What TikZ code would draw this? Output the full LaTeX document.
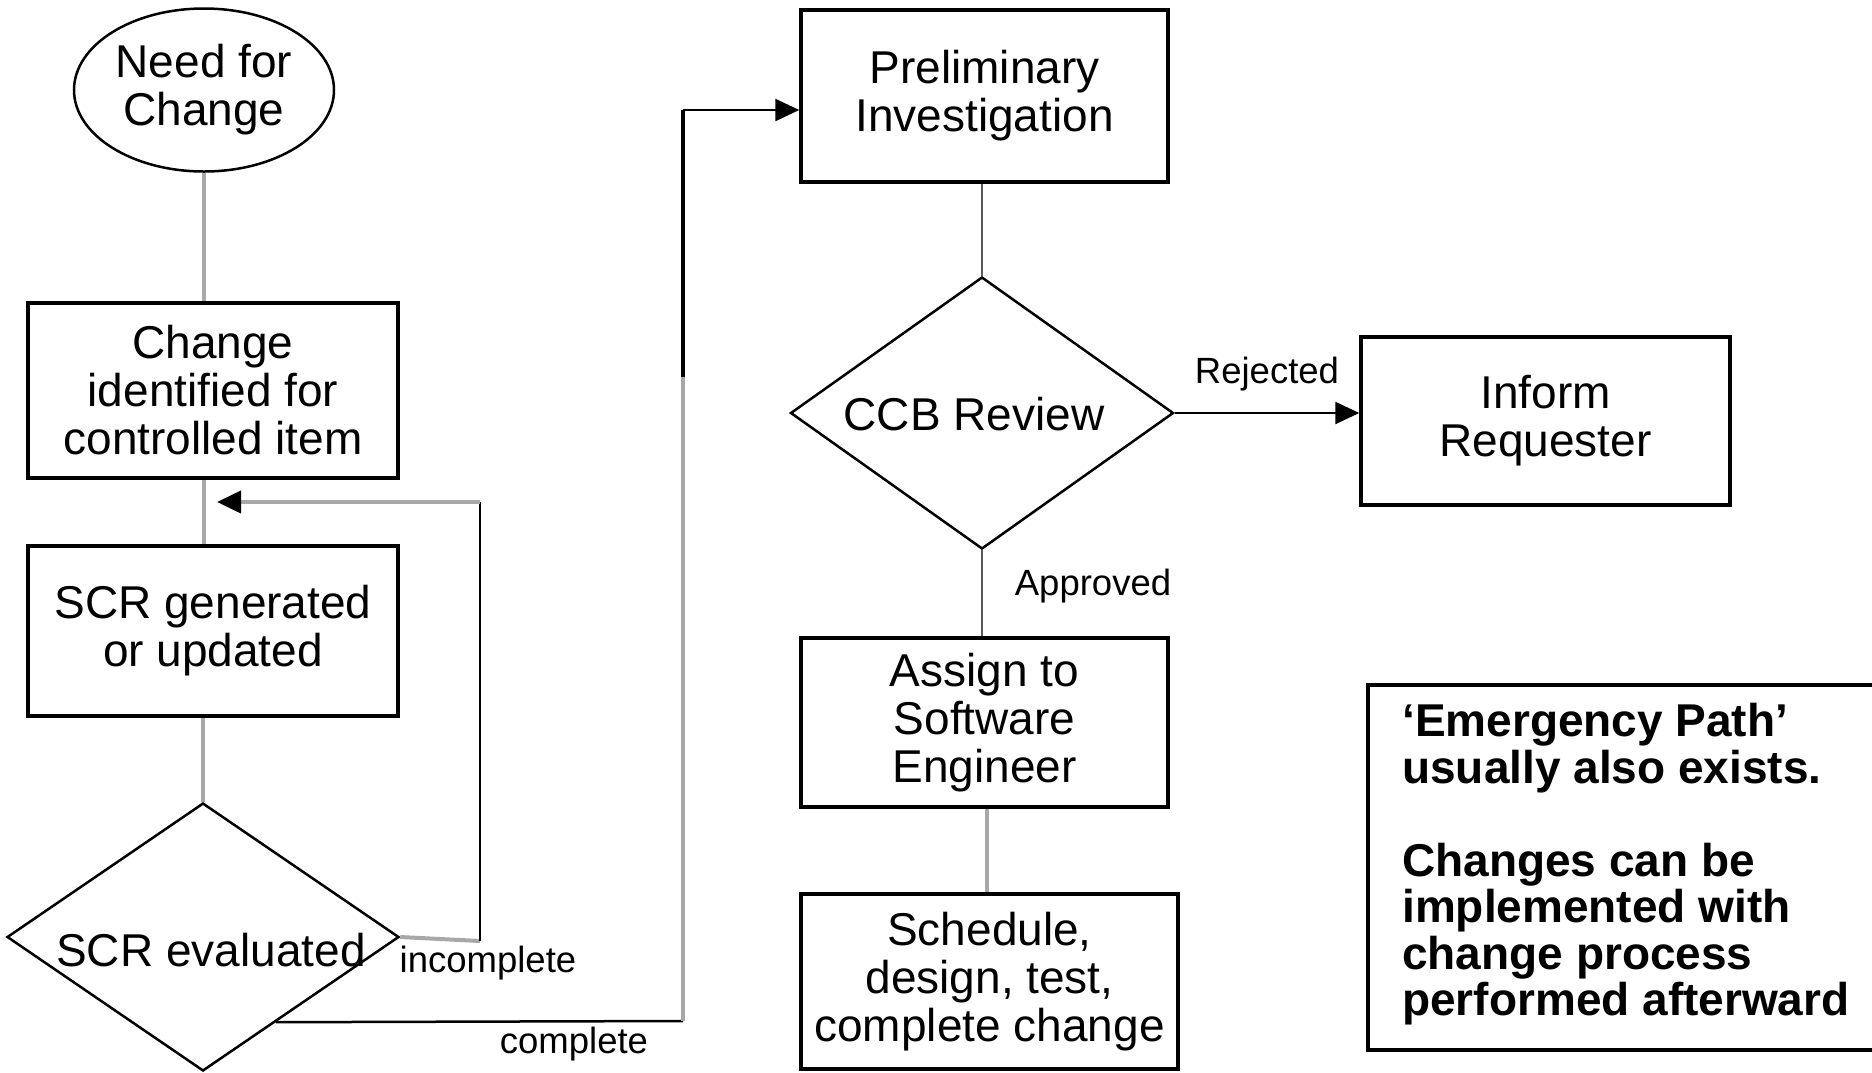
\documentclass[tikz,border=0pt]{standalone}
\usepackage{fontspec}
\setmainfont{Liberation Sans}
\usetikzlibrary{shapes.geometric,arrows.meta,calc}
\definecolor{lgray}{RGB}{168,168,168}
\definecolor{dgray}{RGB}{90,90,90}
\tikzset{
  boxnode/.style={draw=black, line width=3.5pt, rectangle, inner sep=0pt, align=center,
    font=\fontsize{46}{48}\selectfont},
  dianode/.style={draw=black, line width=2.5pt, diamond, inner sep=0pt},
  ellnode/.style={draw=black, line width=2.5pt, ellipse, inner sep=0pt, align=center,
    font=\fontsize{46}{48}\selectfont},
  maintext/.style={inner sep=0pt, align=center, font=\fontsize{46}{48}\selectfont},
  lbl/.style={inner sep=0pt, font=\fontsize{36.5}{40}\selectfont},
  grayline/.style={draw=lgray, line width=4pt},
  darkline/.style={draw=dgray, line width=2.5pt},
  blackline/.style={draw=black, line width=2.5pt},
  thinblack/.style={draw=black, line width=2pt},
  tip/.style={-{Triangle[length=24pt,width=22pt,color=black]}}
}
\begin{document}
\begin{tikzpicture}[x=1pt,y=-1pt]
\useasboundingbox (0,0) rectangle (1872,1072);
\clip (0,0) rectangle (1872,1072);
\fill[white] (0,0) rectangle (1872,1072);

% left column
\node[ellnode, minimum width=260pt, minimum height=163pt] (ell) at (204,90) {Need for\\Change};
\node[boxnode, minimum width=370pt, minimum height=175pt] (b1) at (213,390.5) {Change\\identified for\\controlled item};
\node[boxnode, minimum width=370pt, minimum height=170pt] (b2) at (213,631) {SCR generated\\or updated};
\node[dianode, minimum width=392pt, minimum height=268pt] (sev) at (203,937) {};
\node[maintext] (sevt) at (211,950) {SCR evaluated};

% right column
\node[boxnode, minimum width=367pt, minimum height=172pt] (pre) at (984.5,96) {Preliminary\\Investigation};
\node[dianode, minimum width=383pt, minimum height=272pt] (ccb) at (982,413) {};
\node[maintext] (ccbt) at (974,414) {CCB Review};
\node[boxnode, minimum width=369pt, minimum height=168pt] (inf) at (1545.5,421) {Inform\\Requester};
\node[boxnode, minimum width=367pt, minimum height=169pt] (asg) at (984.5,722.5) {Assign to\\Software\\Engineer};
\node[boxnode, minimum width=377pt, minimum height=175pt] (sch) at (989.5,981.5) {Schedule,\\design, test,\\complete change};

% note box (right side runs off the picture)
\node[draw=black, line width=3.5pt, rectangle, inner sep=0pt, minimum width=540pt, minimum height=365pt,
  anchor=north west] (note) at (1366,683) {};
\node[inner sep=0pt, align=left, anchor=north west, font=\bfseries\fontsize{46}{46.5}\selectfont] (notet) at (1402,703)
  {‘Emergency Path’\\usually also exists.\\[46.5pt]Changes can be\\implemented with\\change process\\performed afterward};

% connectors, left column
\draw[grayline] (ell.south) -- (ell.south |- b1.north);
\draw[grayline] (ell.south |- b1.south) -- (ell.south |- b2.north);
\draw[grayline] (sev.north |- b2.south) -- (sev.north);

% incomplete loop
\coordinate (i1) at (480,941);
\coordinate (i2) at (480,502);
\coordinate (i3) at (217,502);
\draw[grayline] (sev.east) -- (i1);
\draw[thinblack] (i1) -- (i2);
\draw[grayline, tip] (i2) -- (i3);
\node[lbl] (linc) at (488,963) {incomplete};

% complete path
\coordinate (c0) at ($(sev.east)!0.63!(sev.south)$);
\coordinate (c1) at (683,1021);
\coordinate (c2) at (683,377);
\coordinate (c3) at (683,110);
\draw[blackline] (c0) -- (c1);
\draw[grayline] (c1) -- (c2);
\draw[draw=black, line width=4pt] (c2) -- (c3);
\draw[blackline, tip] (c3) -- (pre.west |- c3);
\node[lbl] (lcom) at (574,1044) {complete};

% right column connectors
\draw[darkline] (ccb.north |- pre.south) -- (ccb.north);
\draw[blackline, tip] (ccb.east) -- (inf.west |- ccb.east);
\node[lbl] (lrej) at (1267,374) {Rejected};
\draw[darkline] (ccb.south) -- (ccb.south |- asg.north);
\node[lbl] (lapp) at (1093,586) {Approved};
\draw[grayline] (987,0 |- asg.south) -- (987,0 |- sch.north);
\end{tikzpicture}
\end{document}
